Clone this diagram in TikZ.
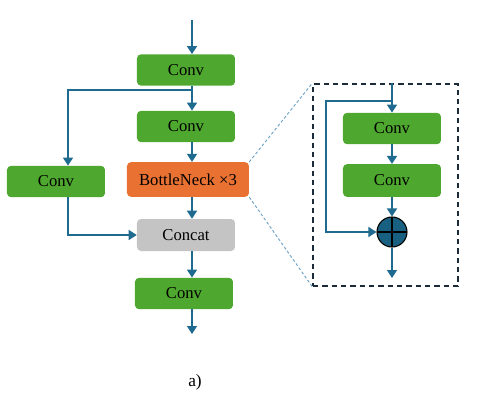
\documentclass[tikz,border=0pt]{standalone}
\usepackage{fontspec}
\setmainfont{Liberation Serif}
\usetikzlibrary{arrows.meta,positioning}
\definecolor{boxgreen}{HTML}{4EA72E}
\definecolor{boxorange}{HTML}{E97132}
\definecolor{boxgray}{HTML}{C4C4C4}
\definecolor{flowblue}{HTML}{1F6B8F}
\definecolor{addblue}{HTML}{17607F}
\definecolor{zoomblue}{HTML}{6FA3C6}
\definecolor{framedark}{HTML}{1C2B3A}

\begin{document}
\begin{tikzpicture}[x=0.75pt,y=-0.75pt]
\tikzset{
  block/.style={rectangle,rounded corners=3pt,minimum width=73.5pt,minimum height=23.5pt,inner sep=0pt,font=\fontsize{12.5}{14}\selectfont},
  convblock/.style={block,fill=boxgreen},
  flow/.style={-{Triangle[length=6pt,width=7.5pt]},flowblue,line width=1.1pt},
  flowline/.style={flowblue,line width=1.1pt},
  zoomline/.style={zoomblue,line width=0.7pt,dash pattern=on 2.2pt off 1.6pt}
}
\useasboundingbox (0,0) rectangle (480,412);
% main column
\coordinate (c_main) at (192,0);
\coordinate (c_top) at (192,20);
\coordinate (c_bot) at (192,334);
\coordinate (c_split) at (192,90);
\coordinate (c_lx) at (68,0);
\node[convblock] (n_conv1) at (186,70) {Conv};
\node[convblock] (n_conv2) at (186,126.5) {Conv};
\node[block,fill=boxorange,minimum width=91.5pt,minimum height=26pt] (n_bneck) at (188,179.5) {BottleNeck ×3};
\node[convblock] (n_convL) at (56,181.5) {Conv};
\node[block,fill=boxgray,minimum height=24pt] (n_concat) at (186,235) {Concat};
\node[convblock] (n_conv3) at (184,293.5) {Conv};
\node[font=\fontsize{13}{15}\selectfont] (n_label) at (195,382) {a)};
\draw[flow] (c_top) -- (n_conv1.north -| c_main);
\draw[flow] (n_conv1.south -| c_main) -- (n_conv2.north -| c_main);
\draw[flow] (n_conv2.south -| c_main) -- (n_bneck.north -| c_main);
\draw[flow] (n_bneck.south -| c_main) -- (n_concat.north -| c_main);
\draw[flow] (n_concat.south -| c_main) -- (n_conv3.north -| c_main);
\draw[flow] (n_conv3.south -| c_main) -- (c_bot);
\draw[flow] (c_split) -- (c_split -| c_lx) -- (n_convL.north -| c_lx);
\draw[flow] (n_convL.south -| c_lx) -- (n_concat.west -| c_lx) -- (n_concat.west);
% bottleneck detail
\node[draw=framedark,line width=1.1pt,dash pattern=on 4pt off 3pt,minimum width=108.75pt,minimum height=151.5pt,inner sep=0pt] (n_frame) at (385.5,185) {};
\coordinate (c_skip) at (392,101);
\coordinate (c_sx) at (326,0);
\coordinate (c_inbot) at (392,278);
\node[convblock] (n_convA) at (392,128.5) {Conv};
\node[convblock,minimum height=24.5pt] (n_convB) at (392,180.5) {Conv};
\node[circle,fill=addblue,draw=black,line width=0.8pt,minimum size=22.5pt,inner sep=0pt,
  path picture={\draw[black,line width=0.9pt] (path picture bounding box.north) -- (path picture bounding box.south)
    (path picture bounding box.west) -- (path picture bounding box.east);}] (n_add) at (392,232) {};
\draw[flow] (n_frame.north -| n_convA) -- (n_convA.north);
\draw[flow] (n_convA.south) -- (n_convB.north);
\draw[flow] (n_convB.south) -- (n_add.north);
\draw[flow] (n_add.south) -- (c_inbot);
\draw[flow] (c_skip) -- (c_skip -| c_sx) -- (n_add.west -| c_sx) -- (n_add.west);
\draw[zoomline] (n_bneck.north east) -- (n_frame.north west);
\draw[zoomline] (n_bneck.south east) -- (n_frame.south west);
\end{tikzpicture}
\end{document}
